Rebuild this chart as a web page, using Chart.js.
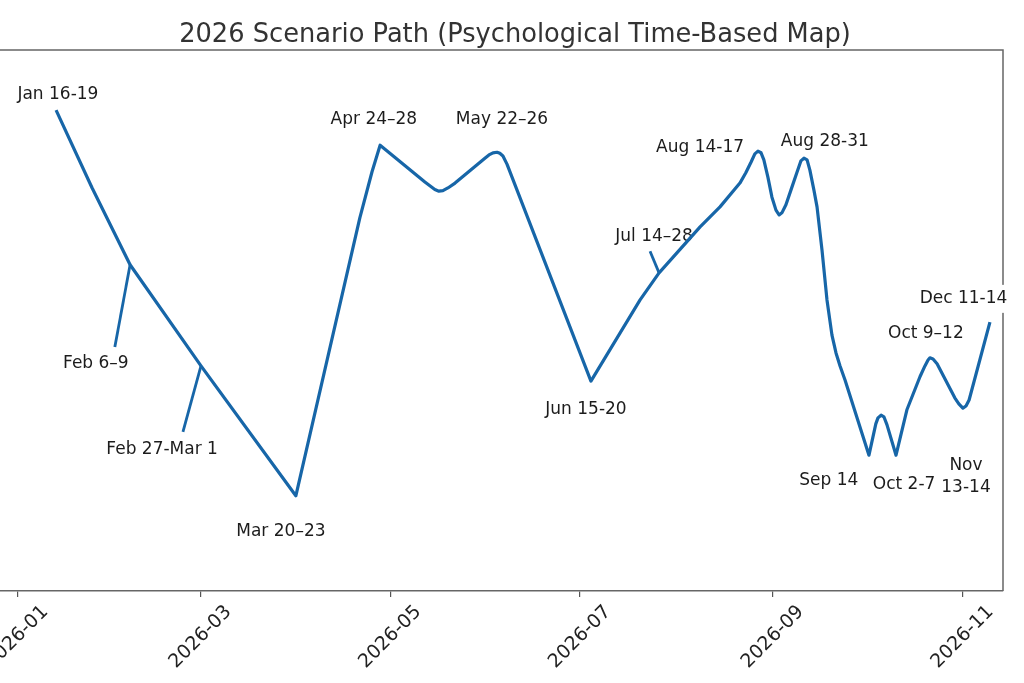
<!DOCTYPE html>
<html><head><meta charset="utf-8">
<script src="https://cdn.jsdelivr.net/npm/chart.js@4.4.1/dist/chart.umd.min.js"></script>
<style>
html,body{margin:0;padding:0;background:#fff;overflow:hidden;width:1024px;height:683px;}
#wrap{position:absolute;left:-60px;top:0;width:1084px;height:683px;}
</style></head><body>
<div id="wrap"><canvas id="c" width="1084" height="683"></canvas></div>
<script>
// x = day of year 2026 (0 = Jan 1), y = psychological level (0..100)
const pathDays = [12.5, 24.1, 36.3, 59.1, 89.6, 110.2, 114.1, 116.7, 131.1, 132.7,
  134.3, 135.6, 136.9, 138.5, 140.8, 150.4, 151.7, 153.0, 154.3, 155.2,
  156.2, 157.5, 184.5, 200.3, 206.4, 219.6, 226.0, 232.4, 234.3, 236.0,
  237.2, 238.2, 239.2, 240.1, 241.4, 242.7, 244.0, 245.0, 245.9, 247.2,
  248.8, 250.7, 252.0, 253.0, 254.0, 254.9, 256.2, 257.2, 258.8, 260.4,
  262.0, 263.3, 264.6, 266.2, 273.9, 276.1, 276.8, 277.8, 278.7, 279.7,
  282.6, 286.1, 290.3, 291.9, 292.9, 293.5, 294.5, 295.8, 301.5, 302.8,
  304.1, 305.1, 306.1, 312.8];
const pathLevels = [88.9, 74.5, 60.3, 41.6, 17.6, 69.0, 77.5, 82.4, 75.6, 74.9,
  74.2, 73.9, 74.0, 74.5, 75.4, 80.0, 80.6, 81.0, 81.1, 80.9,
  80.4, 78.9, 38.8, 53.8, 58.8, 67.3, 71.0, 75.4, 77.3, 79.3,
  80.8, 81.3, 81.0, 79.7, 76.5, 72.8, 70.4, 69.5, 69.9, 71.4,
  74.1, 77.3, 79.5, 80.0, 79.7, 77.8, 74.1, 71.0, 63.0, 53.8,
  47.3, 44.0, 41.6, 39.0, 25.1, 30.9, 32.0, 32.5, 32.2, 30.7,
  25.1, 33.5, 39.6, 41.6, 42.7, 43.1, 42.9, 42.0, 35.7, 34.6,
  33.8, 34.2, 35.3, 49.7];

// leader lines (point on path -> label)
const feb6LeaderDays = [36.3, 31.4];
const feb6LeaderLevels = [60.3, 45.1];
const feb27LeaderDays = [59.1, 53.3];
const feb27LeaderLevels = [41.6, 29.4];
const jul14LeaderDays = [206.4, 203.5];
const jul14LeaderLevels = [58.8, 62.8];

// annotation labels
const labelTexts = ['Jan 16-19', 'Feb 6\u20139', 'Feb 27-Mar 1', 'Mar 20\u201323', 'Apr 24\u201328', 'May 22\u201326', 'Jun 15-20', 'Jul 14\u201328', 'Aug 14-17', 'Aug 28-31', 'Sep 14', 'Oct 2-7', 'Oct 9\u201312', 'Nov\n13-14', 'Dec 11-14'];
const labelDays = [13.1, 25.3, 46.6, 84.8, 114.7, 155.9, 182.9, 204.8, 219.6, 259.7, 261.0, 285.2, 292.2, 305.1, 304.3];
const labelLevels = [91.7, 42.0, 26.1, 10.9, 87.2, 87.2, 33.5, 65.6, 81.9, 83.0, 20.5, 19.6, 47.5, 21.1, 54.0];

// x ticks
const tickDays = [0, 59, 120, 181, 243, 304];
const tickLabels = ['2026-01', '2026-03', '2026-05', '2026-07', '2026-09', '2026-11'];

const titleText = '2026 Scenario Path (Psychological Time-Based Map)';

const LINE = '#1766a8';
const FONT = '"DejaVu Sans", sans-serif';

function pts(xs, ys) { return xs.map((x, i) => ({ x: x, y: ys[i] })); }

const decorPlugin = {
  id: 'decor',
  beforeDatasetsDraw(chart) {
    const ctx = chart.ctx, a = chart.chartArea;
    const xs = chart.scales.x, ys = chart.scales.y;
    ctx.save();
    // frame (top, right, left)
    ctx.strokeStyle = '#666';
    ctx.lineWidth = 1.5;
    ctx.beginPath();
    ctx.moveTo(a.left, a.bottom); ctx.lineTo(a.left, a.top);
    ctx.lineTo(a.right, a.top); ctx.lineTo(a.right, a.bottom);
    ctx.stroke();
    // title
    ctx.fillStyle = '#333';
    ctx.font = '25.7px ' + FONT;
    ctx.textAlign = 'center';
    ctx.textBaseline = 'alphabetic';
    ctx.fillText(titleText, 575, 42);
    // labels
    ctx.font = '17px ' + FONT;
    ctx.textBaseline = 'middle';
    labelTexts.forEach((t, i) => {
      const cx = xs.getPixelForValue(labelDays[i]);
      const cy = ys.getPixelForValue(labelLevels[i]);
      const lines = t.split('\n');
      const lh = 22;
      const w = Math.max(...lines.map(l => ctx.measureText(l).width));
      const h = lines.length * lh;
      ctx.fillStyle = '#fff';
      ctx.fillRect(cx - w / 2 - 3, cy - h / 2 - 3, w + 6, h + 6);
      ctx.fillStyle = '#1c1c1c';
      lines.forEach((l, k) => {
        ctx.fillText(l, cx, cy - h / 2 + lh / 2 + k * lh);
      });
    });
    ctx.restore();
  }
};

const lineStyle = { borderColor: LINE, pointRadius: 0, tension: 0, fill: false, borderJoinStyle: 'round', borderCapStyle: 'butt' };

new Chart(document.getElementById('c'), {
  type: 'line',
  data: {
    datasets: [
      Object.assign({ data: pts(pathDays, pathLevels), borderWidth: 3.2 }, lineStyle),
      Object.assign({ data: pts(feb6LeaderDays, feb6LeaderLevels), borderWidth: 2.8 }, lineStyle),
      Object.assign({ data: pts(feb27LeaderDays, feb27LeaderLevels), borderWidth: 2.8 }, lineStyle),
      Object.assign({ data: pts(jul14LeaderDays, jul14LeaderLevels), borderWidth: 2.8 }, lineStyle)
    ]
  },
  options: {
    responsive: false,
    animation: false,
    devicePixelRatio: 1,
    layout: { padding: { left: 15, right: 21, top: 50, bottom: 0 } },
    plugins: { legend: { display: false }, title: { display: false }, tooltip: { enabled: false } },
    scales: {
      x: {
        type: 'linear',
        min: -20, max: 317,
        afterBuildTicks(axis) { axis.ticks = tickDays.map(v => ({ value: v })); },
        afterFit(axis) { axis.height = 92; },
        ticks: {
          autoSkip: false,
          maxRotation: 45, minRotation: 45,
          labelOffset: 28,
          padding: 4,
          color: '#222',
          font: { family: FONT, size: 19 },
          callback(v) { const i = tickDays.indexOf(v); return i >= 0 ? tickLabels[i] : ''; }
        },
        grid: { drawOnChartArea: false, drawTicks: true, tickLength: 6, color: '#555', lineWidth: 1.2 },
        border: { display: true, color: '#666', width: 1.5 }
      },
      y: { display: false, min: 0, max: 100 }
    }
  },
  plugins: [decorPlugin]
});
</script>
</body></html>
